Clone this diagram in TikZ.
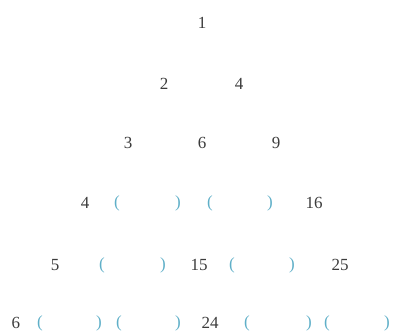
\documentclass[tikz,border=0pt]{standalone}
\usepackage{fontspec}
\setmainfont{Liberation Serif}
\usepackage{xcolor}
\definecolor{numcolor}{RGB}{60,60,60}
\definecolor{blankcolor}{RGB}{95,175,200}
\begin{document}
\begin{tikzpicture}[
    x=1pt, y=-1pt,
    num/.style={inner sep=0pt, text=numcolor, font=\fontsize{17}{19}\selectfont},
    paren/.style={inner sep=0pt, text=blankcolor, font=\fontsize{17}{19}\selectfont}
]
\useasboundingbox (0,0) rectangle (397,331);

% Numbers
\node[num] (r1a) at (202,23) {1};
\node[num] (r2a) at (164,84) {2};
\node[num] (r2b) at (239,84) {4};
\node[num] (r3a) at (128,143) {3};
\node[num] (r3b) at (202,143) {6};
\node[num] (r3c) at (276,143) {9};
\node[num] (r4a) at (85,203) {4};
\node[num] (r4d) at (314,203) {16};
\node[num] (r5a) at (55,265) {5};
\node[num] (r5c) at (199,265) {15};
\node[num] (r5e) at (340,265) {25};
\node[num] (r6a) at (16,323) {6};
\node[num] (r6d) at (210,323) {24};

% Blanks
\node[paren] (b4b-l) at (117,203) {(};
\node[paren] (b4b-r) at (178,203) {)};
\node[paren] (b4c-l) at (210,203) {(};
\node[paren] (b4c-r) at (270,203) {)};
\node[paren] (b5b-l) at (102,265) {(};
\node[paren] (b5b-r) at (163,265) {)};
\node[paren] (b5d-l) at (232,265) {(};
\node[paren] (b5d-r) at (292,265) {)};
\node[paren] (b6b-l) at (40,323) {(};
\node[paren] (b6b-r) at (99,323) {)};
\node[paren] (b6c-l) at (119,323) {(};
\node[paren] (b6c-r) at (178,323) {)};
\node[paren] (b6e-l) at (247,323) {(};
\node[paren] (b6e-r) at (309,323) {)};
\node[paren] (b6f-l) at (327,323) {(};
\node[paren] (b6f-r) at (387,323) {)};

\end{tikzpicture}
\end{document}
